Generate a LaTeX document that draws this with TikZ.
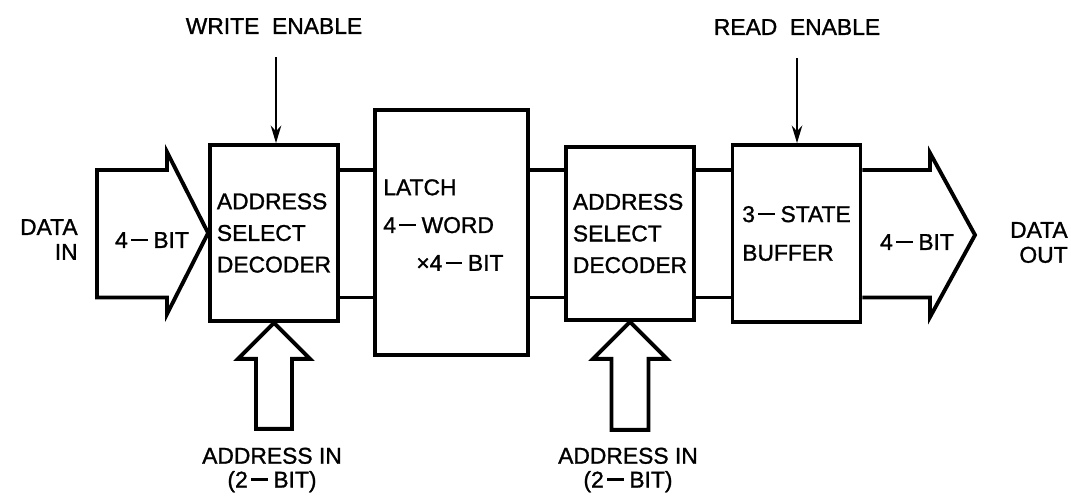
\documentclass[tikz,border=0pt]{standalone}
\usepackage{fontspec}
\setmainfont{Liberation Sans}[FakeBold=1.2]
\usetikzlibrary{arrows.meta}
\newcommand{\bdash}{\kern0.15em\rule[0.3em]{0.72em}{0.1em}\kern0.25em}
\tikzset{
    every node/.style={font=\fontsize{13}{18}\selectfont, inner sep=0pt}
}
\tikzset{
    block/.style={draw, line width=2.2pt, align=left, minimum width=2.56cm},
    fat/.style={line width=2.2pt, line join=miter},
    wire/.style={line width=2pt},
    enable/.style={line width=1.1pt, -{Stealth[length=10pt,width=6pt]}},
    lbl/.style={align=center, font=\fontsize{13}{13.6}\selectfont}
}

\begin{document}
\begin{tikzpicture}[x=0.02cm, y=-0.02cm]
  \useasboundingbox (0,0) rectangle (1071,495);
  \coordinate (hi) at (0,170);
  \coordinate (lo) at (0,297.5);
  \node [block, minimum height=3.52cm] (dec1) at (274,233) {ADDRESS\\SELECT\\DECODER};
  \node [block, minimum width=3.06cm, minimum height=4.9cm] (latch) at (451.5,232.5) {};
  \node [align=left, anchor=west, font=\fontsize{13}{21.5}\selectfont] (latchtxt) at (383,225)
    {LATCH\\4\bdash WORD\\\hspace*{0.66cm}×4\bdash BIT};
  \node [block, minimum height=3.46cm] (dec3) at (630,233.5) {ADDRESS\\SELECT\\DECODER};
  \node [block, minimum height=3.54cm, font=\fontsize{13}{22}\selectfont] (buf) at (796.5,233.5) {3\bdash STATE\\BUFFER};
  \draw [wire] (dec1.east |- hi) -- (latch.west |- hi);
  \draw [wire] (dec1.east |- lo) -- (latch.west |- lo);
  \draw [wire] (latch.east |- hi) -- (dec3.west |- hi);
  \draw [wire] (latch.east |- lo) -- (dec3.west |- lo);
  \draw [wire] (dec3.east |- hi) -- (buf.west |- hi);
  \draw [wire] (dec3.east |- lo) -- (buf.west |- lo);
  \draw [fat] (97,170) -- (167,170) -- (167,152) -- (dec1.west) -- (167,314) -- (167,297.5) -- (97,297.5) -- cycle;
  \draw [fat] (buf.east |- hi) -- (930,170) -- (930,153) -- (975,235) -- (930,317) -- (930,297.5) -- (buf.east |- lo);
  \node (bitin) at (152,240) {4\bdash BIT};
  \node (bitout) at (917,242) {4\bdash BIT};
  \node [lbl, align=right, anchor=east, font=\fontsize{13}{14.2}\selectfont] (din) at (78,239.5) {DATA\\IN};
  \node [lbl, align=right, anchor=east, font=\fontsize{13}{14.2}\selectfont] (dout) at (1068,242.5) {DATA\\OUT};
  \draw [fat] (dec1.south) -- ++(36,36) -- ++(-18,0) -- ++(0,70) -- ++(-36,0) -- ++(0,-70) -- ++(-18,0) -- cycle;
  \draw [fat] (dec3.south) -- ++(37,37) -- ++(-18.5,0) -- ++(0,71) -- ++(-37,0) -- ++(0,-71) -- ++(-18.5,0) -- cycle;
  \node [lbl] (addr1) at (272,470) {ADDRESS IN\\(2\bdash BIT)};
  \node [lbl] (addr2) at (628,470) {ADDRESS IN\\(2\bdash BIT)};
  \node (wen) at (274,26) {WRITE\ \ ENABLE};
  \coordinate (wen1) at (276,57);
  \draw [enable] (wen1) -- (wen1 |- dec1.north);
  \node (ren) at (797,27) {READ\ \ ENABLE};
  \coordinate (ren1) at (797,58);
  \draw [enable] (ren1) -- (ren1 |- buf.north);
\end{tikzpicture}
\end{document}
